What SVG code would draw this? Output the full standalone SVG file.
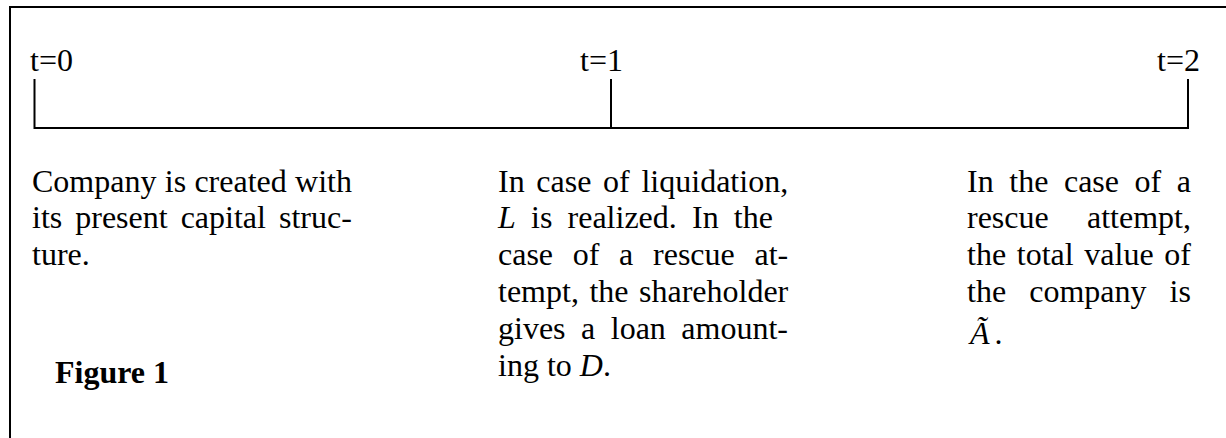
<svg xmlns="http://www.w3.org/2000/svg" width="1226" height="438" viewBox="0 0 1226 438">
<style>
text{font-family:"Liberation Serif","Times New Roman",serif;font-size:32px;fill:#000}
.b{font-weight:bold}
.i{font-style:italic}
.ln{stroke:#000;stroke-width:2;fill:none}
</style>
<rect x="0" y="0" width="1226" height="438" fill="#fff"/>
<path class="ln" d="M10,440 V7 H1230"/>
<g id="timeline">
<path class="ln" d="M34.5,79 V128 H1188 V79 M611,79 V128"/>
</g>
<g id="t0"><text x="30" y="71">t=0</text></g>
<g id="t1"><text x="580" y="71">t=1</text></g>
<g id="t2"><text x="1157" y="71">t=2</text></g>
<g id="col0">
<text x="32" y="191.5" word-spacing="0.3">Company is created with</text>
<text x="32" y="228.3" word-spacing="5">its present capital struc-</text>
<text x="32" y="265.1">ture.</text>
</g>
<g id="col1">
<text x="498" y="191.5" word-spacing="3.7">In case of liquidation,</text>
<text x="498" y="228.3" word-spacing="7.2"><tspan class="i">L</tspan> is realized. In the</text>
<text x="498" y="265.1" word-spacing="11.7">case of a rescue at-</text>
<text x="498" y="301.9" word-spacing="2.5">tempt, the shareholder</text>
<text x="498" y="338.7" word-spacing="7.5">gives a loan amount-</text>
<text x="498" y="375.5">ing to <tspan class="i">D</tspan>.</text>
</g>
<g id="col2">
<text x="967" y="191.5" word-spacing="7.6">In the case of a</text>
<text x="967" y="228.3" word-spacing="30.3">rescue attempt,</text>
<text x="967" y="265.1" word-spacing="2.7">the total value of</text>
<text x="967" y="301.9" word-spacing="15.1">the company is</text>
<text x="970" y="344"><tspan class="i">A&#x303;</tspan><tspan dx="5">.</tspan></text>
</g>
<g id="caption"><text class="b" x="55" y="383">Figure 1</text></g>
</svg>
